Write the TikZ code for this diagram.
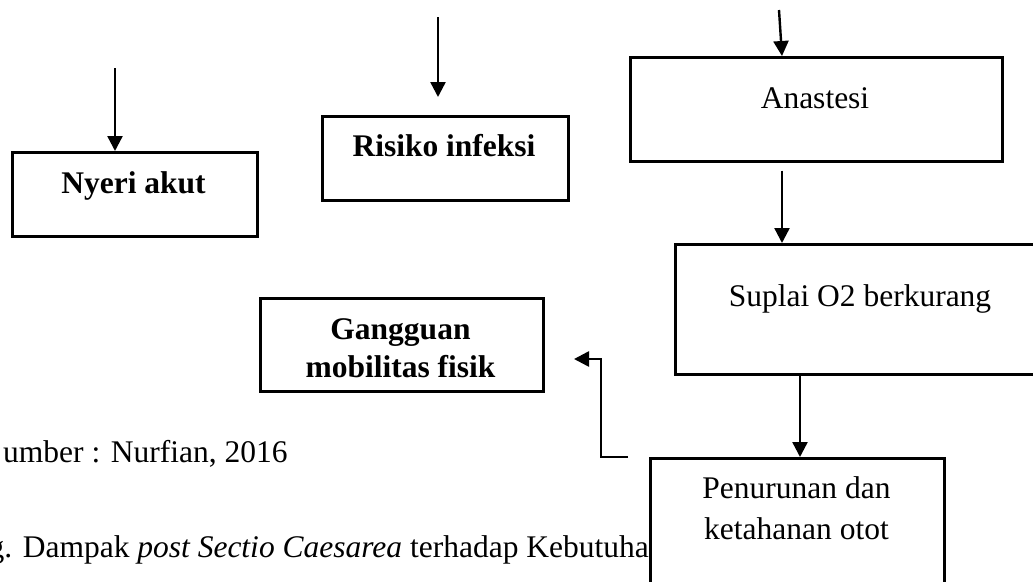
\documentclass[tikz,border=0pt]{standalone}
\usepackage{fontspec}
\setmainfont{Liberation Serif}
\usetikzlibrary{arrows.meta}
\tikzset{
  box/.style={draw=black, line width=2.7pt, rectangle, inner sep=0pt, anchor=north west, fill=white},
  arr/.style={draw=black, line width=2.4pt, -{Triangle[length=15pt,width=15pt]}},
  txt/.style={inner sep=0pt, anchor=base, font=\fontsize{31.5}{41}\selectfont},
  btxt/.style={txt, font=\fontsize{31.5}{41}\selectfont\bfseries},
  ltxt/.style={inner sep=0pt, anchor=base west, font=\fontsize{31.5}{41}\selectfont}
}
\begin{document}
\begin{tikzpicture}[x=1pt,y=-1pt]
\useasboundingbox (0,0) rectangle (1033,581);
\clip (0,0) rectangle (1033,581);

% caption text (partly hidden by the box on the right)
\node[ltxt] (src) at (3,462) {umber : Nurfian, 2016};
\node[ltxt] (cap) at (-11.5,557) {g. Dampak \textit{post Sectio Caesarea} terhadap Kebutuhan};

% boxes
\node[box, minimum width=245pt, minimum height=84pt] (nyeri) at (11,151) {};
\node[box, minimum width=246pt, minimum height=84pt] (ris) at (321,115) {};
\node[box, minimum width=372pt, minimum height=104pt] (ana) at (629,56) {};
\node[box, minimum width=372pt, minimum height=130pt] (sup) at (674,243) {};
\node[box, minimum width=283pt, minimum height=93pt] (gang) at (259,297) {};
\node[box, minimum width=294pt, minimum height=143pt] (pen) at (649,457) {};

% texts
\node[btxt] (nyeriT) at (133.5,193) {Nyeri akut};
\node[btxt] (risT) at (444,156) {Risiko infeksi};
\node[txt] (anaT) at (815,108) {Anastesi};
\node[txt] (supT) at (860,306) {Suplai O2 berkurang};
\node[btxt] (gangT1) at (400.5,339) {Gangguan};
\node[btxt] (gangT2) at (400.5,377) {mobilitas fisik};
\node[txt] (penT1) at (796.5,498) {Penurunan dan};
\node[txt] (penT2) at (796.5,539) {ketahanan otot};

% free arrow starts
\coordinate (nyeriIn) at (115,68);
\coordinate (risIn) at (438,17);
\coordinate (anaIn) at (779,10);
\coordinate (elbS) at (628,457);
\coordinate (elbE) at (574,359);

% connectors
\draw[arr] (nyeriIn) -- (nyeriIn |- nyeri.north);
\draw[arr] (risIn) -- ([yshift=18pt]risIn |- ris.north);
\draw[arr] (anaIn) -- (782,0 |- ana.north);
\draw[arr] (782,0 |- ana.south) ++(0,8) -- (782,0 |- sup.north);
\draw[arr] (800,0 |- sup.south) -- (800,0 |- pen.north);
\draw[arr, line width=2.6pt] (elbS) -- ++(-27,0) |- (elbE);
\end{tikzpicture}
\end{document}
